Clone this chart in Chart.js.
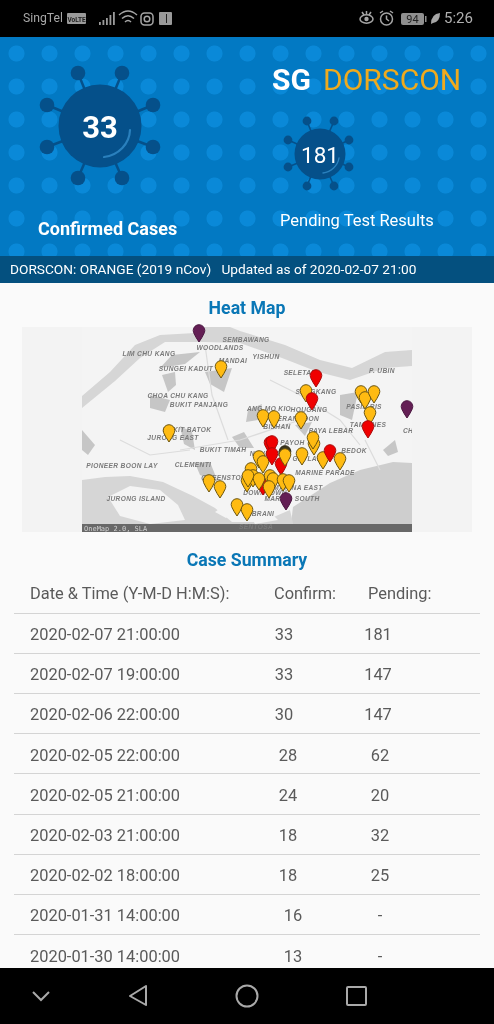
<!DOCTYPE html>
<html><head><meta charset="utf-8">
<script src="https://cdn.jsdelivr.net/npm/chart.js@4"></script>
<style>
html,body{margin:0;padding:0;background:#000;}
#page{position:relative;width:494px;height:1024px;overflow:hidden;font-family:Roboto,sans-serif;background:#fafafa;}
.abs{position:absolute;white-space:nowrap;line-height:1;}
#status{left:0;top:0;width:494px;height:37px;background:#000;}
#hero{left:0;top:37px;width:494px;height:219px;background-color:#0279c3;
 background-image:radial-gradient(circle at center,#0a89d8 0,#0a89d8 7.6px,rgba(10,137,216,0) 8.4px);
 background-size:33px 33px;background-position:0 0;}
#band{left:0;top:256px;width:494px;height:27px;background:#04507f;}
#panel{left:22px;top:327px;width:450px;height:205px;background:#f3f3f3;}
#nav{left:0;top:968px;width:494px;height:56px;background:#000;}
svg{position:absolute;left:0;top:0;}
#mapChart{position:absolute;left:0;top:310px;filter:blur(.25px);}
#mapBase{filter:blur(.45px);}
.title{color:#0a77b6;font-weight:700;font-size:17.7px;transform:translateX(-50%);}
.cell{color:#5a5a5a;font-size:16.4px;}
.rule{position:absolute;left:14px;width:466px;height:1px;background:#d4d4d4;}
</style></head>
<body><div id="page">
<div id="status" class="abs"></div>
<div id="hero" class="abs"></div>
<div id="band" class="abs"></div>
<div id="panel" class="abs"></div>

<svg width="494" height="1024" viewBox="0 0 494 1024">
 <defs><clipPath id="mc"><rect x="82" y="327" width="330" height="205"/></clipPath></defs>
 <g stroke="#05508a" stroke-width="2.5" fill="#05508a">
  <line x1="78" y1="73" x2="100" y2="127"/><line x1="122" y1="73" x2="100" y2="127"/>
  <line x1="47" y1="105" x2="100" y2="127"/><line x1="153" y1="105" x2="100" y2="127"/>
  <line x1="47" y1="147" x2="100" y2="127"/><line x1="153" y1="147" x2="100" y2="127"/>
  <line x1="78" y1="178" x2="100" y2="127"/><line x1="122" y1="178" x2="100" y2="127"/>
  <g stroke="none"><circle cx="78" cy="73" r="7.3"/><circle cx="122" cy="73" r="7.3"/><circle cx="47" cy="105" r="7.3"/><circle cx="153" cy="105" r="7.3"/><circle cx="47" cy="147" r="7.3"/><circle cx="153" cy="147" r="7.3"/><circle cx="78" cy="178" r="7.3"/><circle cx="122" cy="178" r="7.3"/>
  <circle cx="100" cy="126" r="41.5"/></g>
 </g>
 <path d="M130 130 A30 28 0 0 1 104 157" fill="none" stroke="#2a80bd" stroke-width="2.2" stroke-linecap="round"/>
 <g stroke="#05508a" stroke-width="1.6" fill="#05508a">
  <line x1="307" y1="121" x2="320" y2="154"/><line x1="334" y1="121" x2="320" y2="154"/>
  <line x1="288" y1="140" x2="320" y2="154"/><line x1="349" y1="140" x2="320" y2="154"/>
  <line x1="288" y1="167" x2="320" y2="154"/><line x1="349" y1="167" x2="320" y2="154"/>
  <line x1="307" y1="186" x2="320" y2="154"/><line x1="334" y1="186" x2="320" y2="154"/>
  <g stroke="none"><circle cx="307" cy="121" r="4.4"/><circle cx="334" cy="121" r="4.4"/><circle cx="288" cy="140" r="4.4"/><circle cx="349" cy="140" r="4.4"/><circle cx="288" cy="167" r="4.4"/><circle cx="349" cy="167" r="4.4"/><circle cx="307" cy="186" r="4.4"/><circle cx="334" cy="186" r="4.4"/>
  <circle cx="320" cy="154" r="25.5"/></g>
 </g>
 <path d="M339 158 A19 18 0 0 1 323 173" fill="none" stroke="#2a80bd" stroke-width="1.4" stroke-linecap="round"/>

 <g clip-path="url(#mc)"><g id="mapBase">
  <rect x="82" y="327" width="330" height="205" fill="#f4f4f4"/>
  <g fill="#d6d6d6">
   <path d="M82 396 L110 372 L135 345 L160 335 L195 333 L205 327 L230 327 L240 331 L285 345 L320 360 L352 368 L385 352 L412 350 L412 366 L385 368 L350 380 L318 372 L282 358 L240 343 L205 342 L165 342 L140 358 L115 381 L82 408Z"/>
   <path d="M290 532 L293 507 L330 483 L360 470 L393 462 L412 463 L412 532Z" fill="#cecece"/>
   <path d="M82 480 L105 477 L130 476 L163 482 L193 496 L215 508 L232 522 L262 522 L290 510 L295 532 L82 532Z"/>
  </g>
  <g fill="#f4f4f4">
   <path d="M108 497 L130 486 L160 490 L178 505 L185 520 L150 524 L120 516Z"/>
   <path d="M250 515 L268 510 L278 520 L255 524Z"/>
   <path d="M215 512 L232 500 L240 505 L226 518Z"/>
  </g>
  <g fill="#c6c6c6">
   <path d="M162 375 L175 372 L176 385 L168 392Z"/><path d="M172 355 L200 352 L185 364 L160 368Z"/>
   <path d="M205 372 L232 368 L224 392 L210 384Z"/><path d="M248 410 L262 404 L258 420 L246 422Z"/>
   <path d="M232 437 L244 432 L254 448 L240 448Z"/><path d="M180 426 L192 432 L195 450 L184 444Z"/>
   <path d="M195 463 L210 462 L218 482 L200 475Z"/><path d="M82 430 L95 445 L88 455 L82 450Z"/>
   <path d="M383 450 L395 440 L398 452 L388 456Z"/><path d="M295 425 L312 422 L305 436Z"/>
   <path d="M150 395 L170 400 L165 412 L150 408Z"/><path d="M340 395 L358 392 L352 420 L340 415Z"/>
  </g>
  <g fill="none" stroke="#dcdcdc" stroke-width="1.2">
   <path d="M365 440 L380 470"/><path d="M270 380 L300 395 L340 420 L360 445"/><path d="M180 450 L240 440 L300 420"/>
   <path d="M205 345 L212 395 L228 440"/><path d="M120 440 L150 455 L190 450"/>
  </g>
  <rect x="82" y="524" width="330" height="8" fill="#686868"/>
  <g font-family="'Liberation Sans',sans-serif" font-size="6.6" font-weight="700" font-style="italic" fill="#7a7a7a" text-anchor="middle" letter-spacing=".35" id="labels"></g>
  <text x="84" y="531" font-family="'DejaVu Sans Mono',monospace" font-size="7" fill="#cfcfcf">OneMap 2.0, SLA</text>
 </g></g>
</svg>

<canvas id="mapChart" width="494" height="240" style="width:494px;height:240px"></canvas>

<div id="nav" class="abs"></div>
<svg width="494" height="1024" viewBox="0 0 494 1024" style="pointer-events:none">
 <g fill="none" stroke="#a9a9a9" stroke-width="2">
  <path d="M33 992 L41 1000 L49 992"/>
  <path d="M146 986 L130 996 L146 1005Z" stroke-linejoin="round"/>
  <circle cx="247" cy="996" r="10.5"/>
  <rect x="347" y="987" width="19" height="18" rx="1"/>
 </g>
 <g fill="#9a9a9a">
  <rect x="67" y="13" width="19" height="11" rx="1"/>
  <rect x="99" y="22" width="1.8" height="3"/><rect x="102.5" y="20" width="1.8" height="5"/><rect x="106" y="18" width="1.8" height="7"/><rect x="109.5" y="15" width="1.8" height="10"/><rect x="113" y="12" width="1.8" height="13"/>
  <rect x="159" y="12" width="13" height="13" rx="1"/>
 </g>
 <text x="76.5" y="21.5" font-family="Roboto,sans-serif" font-size="6.5" font-weight="700" fill="#222" text-anchor="middle">VoLTE</text>
 <rect x="166" y="14" width="1" height="9" fill="#222"/>
 <g fill="none" stroke="#a5a5a5" stroke-width="1.5">
  <path d="M119 15 Q128 7 137 15"/><path d="M122 18.5 Q128 13 134 18.5"/><path d="M125 22 Q128 19 131 22"/>
  <rect x="141" y="13" width="12" height="12" rx="3.5"/><circle cx="147" cy="19" r="2.8"/>
  <ellipse cx="366.5" cy="19" rx="6.5" ry="4.2"/><path d="M362 12 L364 15 M366.5 11 V14 M371 12 L369 15"/>
  <circle cx="386.5" cy="19" r="6"/><path d="M386.500 15.500 V19 L389 21"/><path d="M380 13 L383 11 M393 13 L390 11"/>
 </g>
 <circle cx="366.500" cy="19" r="2.200" fill="#a5a5a5"/>
 <rect x="401" y="13" width="23" height="12" rx="2" fill="#8f8f8f"/>
 <rect x="425" y="16" width="1.500" height="6" fill="#8f8f8f"/>
 <text x="412.500" y="23" font-family="Roboto,sans-serif" font-size="11" fill="#222" text-anchor="middle">94</text>
 <path d="M431 24 Q431 14 440 13 Q440 22 433 23Z" fill="#a5a5a5"/>
</svg>

<div class="abs" style="left:23px;top:12px;color:#a8a8a8;font-size:12.2px">SingTel</div>
<div class="abs" style="left:444px;top:11px;color:#b0b0b0;font-size:15px">5:26</div>

<div class="abs" id="confNum" style="left:100px;top:112px;transform:translateX(-50%);color:#fff;font-weight:700;font-size:31px"></div>
<div class="abs" id="pendNum" style="left:320px;top:144px;transform:translateX(-50%);color:#fff;font-size:22.5px"></div>
<div class="abs" style="left:38px;top:220px;color:#fff;font-weight:700;font-size:18px">Confirmed Cases</div>
<div class="abs" style="left:280px;top:213px;color:#fff;font-size:16.5px">Pending Test Results</div>
<div class="abs" style="left:272px;top:65px;color:#fff;font-weight:700;font-size:30px">SG</div>
<div class="abs" style="left:323px;top:65px;color:#eeaa1e;font-size:30px">DORSCON</div>
<div class="abs" style="left:10px;top:263px;color:#fff;font-size:13.7px">DORSCON: ORANGE (2019 nCov)&nbsp;&nbsp; Updated as of 2020-02-07 21:00</div>

<div class="abs title" style="left:247px;top:300px">Heat Map</div>
<div class="abs title" style="left:247px;top:552px">Case Summary</div>
<div class="abs cell" style="left:30px;top:586px">Date &amp; Time (Y-M-D H:M:S):</div>
<div class="abs cell" style="left:274px;top:586px">Confirm:</div>
<div class="abs cell" style="left:368px;top:586px">Pending:</div>
<div id="rows"></div>
</div>

<script>
// ---- table data ----
const caseTimes = ["2020-02-07 21:00:00","2020-02-07 19:00:00","2020-02-06 22:00:00","2020-02-05 22:00:00","2020-02-05 21:00:00","2020-02-03 21:00:00","2020-02-02 18:00:00","2020-01-31 14:00:00","2020-01-30 14:00:00"];
const confirmedCounts = [33,33,30,28,24,18,18,16,13];
const pendingCounts = ["181","147","147","62","20","32","25","-","-"];
const latestConfirmed = 33;
const latestPending = 181;
// ---- map markers, in map units measured from the map's top-left corner; tip of each pin ----
const yellowX = [139,87,224,279,283,292,288,181,192,219,232,231,220,241,258,177,181,203,127,138,155,165,165,169,171,166,177,188,191,187,201,207];
const yellowY = [51,115,75,76,82,76,97,100,101,102,128,122,138,142,143,141,146,139,165,171,189,194,165,153,160,160,163,160,163,171,164,165];
const redUnderX = [199,181];
const redUnderY = [148,168];
const redOverX = [234,230,286,248,188,190,190];
const redOverY = [60,83,111,135,127,126,138];
const purpleX = [117,325,204];
const purpleY = [15,91,183];
const darkX = [203];
const darkY = [136];
// ---- layout only ----
const rowTops = [627,667,707,748,788,828,868,908,949];
const ruleTops = [613,653,693,733,773,814,854,894,934];
const confirmCenters = [284,284,284,288,288,288,288,293,293];
const pendingCenters = [378,378,378,380,380,380,380,380,380];
const mapLabels = [["SEMBAWANG",246,342],["WOODLANDS",220,350],["LIM CHU KANG",149,356],["MANDAI",233,363],["YISHUN",266,359],["SUNGEI KADUT",186,371],["SELETAR",300,375],["P. UBIN",382,373],["CHOA CHU KANG",178,398],["BUKIT PANJANG",199,407],["SENGKANG",316,394],["ANG MO KIO",269,411],["HOUGANG",309,412],["PASIR RIS",364,409],["SERANGOON",296,421],["TAMPINES",368,427],["BISHAN",277,429],["PAYA LEBAR",331,433],["BUKIT BATOK",187,432],["JURONG EAST",173,440],["CH",408,433],["TOA PAYOH",284,445],["BUKIT TIMAH",223,452],["BEDOK",354,453],["NOVENA",265,456],["GEYLANG",310,461],["PIONEER BOON LAY",122,468],["CLEMENTI",193,467],["MARINE PARADE",325,475],["QUEENSTOWN",227,480],["MARINA EAST",298,490],["DOWNTOWN",265,495],["MARINA SOUTH",292,501],["JURONG ISLAND",136,501],["BRANI",263,516],["SENTOSA",256,529]];

document.getElementById("confNum").textContent = latestConfirmed;
document.getElementById("pendNum").textContent = latestPending;

const rowsEl = document.getElementById("rows");
caseTimes.forEach((t,i)=>{
  const mk=(txt,style)=>{const d=document.createElement("div");d.className="abs cell";d.style.cssText=style;d.textContent=txt;rowsEl.appendChild(d);};
  mk(t,`left:30px;top:${rowTops[i]}px`);
  mk(confirmedCounts[i],`left:${confirmCenters[i]}px;top:${rowTops[i]}px;transform:translateX(-50%)`);
  mk(pendingCounts[i],`left:${pendingCenters[i]}px;top:${rowTops[i]}px;transform:translateX(-50%)`);
  const r=document.createElement("div");r.className="rule";r.style.top=ruleTops[i]+"px";rowsEl.appendChild(r);
});

const lab=document.getElementById("labels");
mapLabels.forEach(([s,x,y])=>{
  const t=document.createElementNS("http://www.w3.org/2000/svg","text");
  t.setAttribute("x",x);t.setAttribute("y",y);t.textContent=s;lab.appendChild(t);
});

function pin(fill,stroke){
  const c=document.createElement("canvas");c.width=18;c.height=40;
  const g=c.getContext("2d");const cx=9,tip=20,cy=tip-11.5,r=5.8;
  g.beginPath();g.arc(cx,cy,r,Math.PI*0.88,Math.PI*0.12,false);
  g.quadraticCurveTo(cx+3.2,tip-4.5,cx,tip);
  g.quadraticCurveTo(cx-3.2,tip-4.5,cx-r*Math.cos(Math.PI*0.12),cy+r*Math.sin(Math.PI*0.12));
  g.closePath();g.fillStyle=fill;g.fill();g.lineWidth=1;g.strokeStyle=stroke;g.stroke();
  return c;
}
const zip=(xs,ys)=>xs.map((x,i)=>({x,y:ys[i]}));
const ds=(label,xs,ys,style)=>({label,data:zip(xs,ys),pointStyle:style,pointRadius:6,pointHoverRadius:6,showLine:false});
new Chart(document.getElementById("mapChart"),{
  type:"scatter",
  data:{datasets:[
    ds("Isolated",purpleX,purpleY,pin("#641f55","#4a1640")),
    ds("Confirmed recent",redOverX,redOverY,pin("#f00000","#a80a0a")),
    ds("Cases",yellowX,yellowY,pin("#ffbb12","#6a5410")),
    ds("Dark marker",darkX,darkY,pin("#3c3620","#2a2510")),
    ds("Confirmed",redUnderX,redUnderY,pin("#f00000","#a80a0a"))
  ]},
  options:{
    responsive:false,animation:false,devicePixelRatio:1,
    layout:{padding:0,autoPadding:false},
    plugins:{legend:{display:false},tooltip:{enabled:false}},
    scales:{
      x:{type:"linear",min:-82,max:412,display:false},
      y:{type:"linear",reverse:true,min:-17,max:223,display:false}
    }
  }
});
</script>
</body></html>
